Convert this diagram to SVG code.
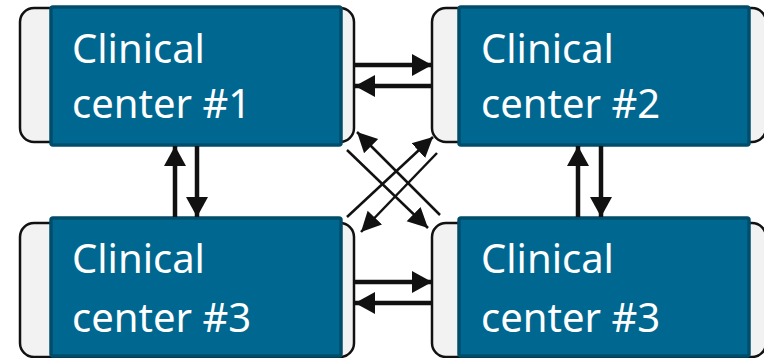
<svg xmlns="http://www.w3.org/2000/svg" width="764" height="358" viewBox="0 0 764 358">
  <style>
    .tab { fill: #f2f2f2; stroke: #111111; stroke-width: 2.5; }
    .box { fill: #006890; stroke: #004d6b; stroke-width: 3.5; }
    .label { fill: #ffffff; font-family: "Noto Sans", "Open Sans", sans-serif; font-size: 40px; }
    .link { stroke: #111111; stroke-width: 4.5; fill: none; marker-end: url(#head); }
    .diag { stroke: #111111; stroke-width: 2.5; fill: none; marker-end: url(#headS); }
  </style>
  <defs>
    <marker id="head" markerUnits="userSpaceOnUse" markerWidth="20" markerHeight="22" refX="20" refY="11" orient="auto">
      <path d="M0,0 L20,11 L0,22 z" fill="#111111"/>
    </marker>
    <marker id="headS" markerUnits="userSpaceOnUse" markerWidth="20" markerHeight="22" refX="20" refY="11" orient="auto">
      <path d="M0,1 L20,11 L0,21 z" fill="#111111"/>
    </marker>
  </defs>

  <g id="center1">
    <rect class="tab" x="20" y="8" width="334" height="134" rx="14"/>
    <rect class="box" x="51" y="7" width="290" height="138" rx="2"/>
    <text class="label" x="72" y="63">Clinical</text>
    <text class="label" x="72" y="118">center #1</text>
  </g>

  <g id="center2">
    <rect class="tab" x="432" y="8" width="334" height="134" rx="14"/>
    <rect class="box" x="459" y="7" width="290" height="138" rx="2"/>
    <text class="label" x="481" y="63">Clinical</text>
    <text class="label" x="481" y="118">center #2</text>
  </g>

  <g id="center3">
    <rect class="tab" x="20" y="223" width="334" height="134" rx="14"/>
    <rect class="box" x="51" y="218" width="290" height="138" rx="2"/>
    <text class="label" x="72" y="273">Clinical</text>
    <text class="label" x="72" y="332">center #3</text>
  </g>

  <g id="center4">
    <rect class="tab" x="432" y="223" width="334" height="134" rx="14"/>
    <rect class="box" x="459" y="218" width="290" height="138" rx="2"/>
    <text class="label" x="481" y="273">Clinical</text>
    <text class="label" x="481" y="332">center #3</text>
  </g>

  <g id="connectors">
    <!-- top row -->
    <line class="link" x1="354" y1="65" x2="432" y2="65"/>
    <line class="link" x1="432" y1="86" x2="355" y2="86"/>
    <!-- bottom row -->
    <line class="link" x1="354" y1="282" x2="432" y2="282"/>
    <line class="link" x1="432" y1="303" x2="355" y2="303"/>
    <!-- left column -->
    <line class="link" x1="175" y1="217" x2="175" y2="146"/>
    <line class="link" x1="197" y1="146" x2="197" y2="217"/>
    <!-- right column -->
    <line class="link" x1="578" y1="217" x2="578" y2="146"/>
    <line class="link" x1="601" y1="146" x2="601" y2="217"/>
    <!-- cross links -->
    <line class="diag" x1="440" y1="215" x2="357" y2="132"/>
    <line class="diag" x1="347" y1="217" x2="433" y2="137"/>
    <line class="diag" x1="347" y1="150" x2="428" y2="228"/>
    <line class="diag" x1="437" y1="153" x2="361" y2="232"/>
  </g>
</svg>
